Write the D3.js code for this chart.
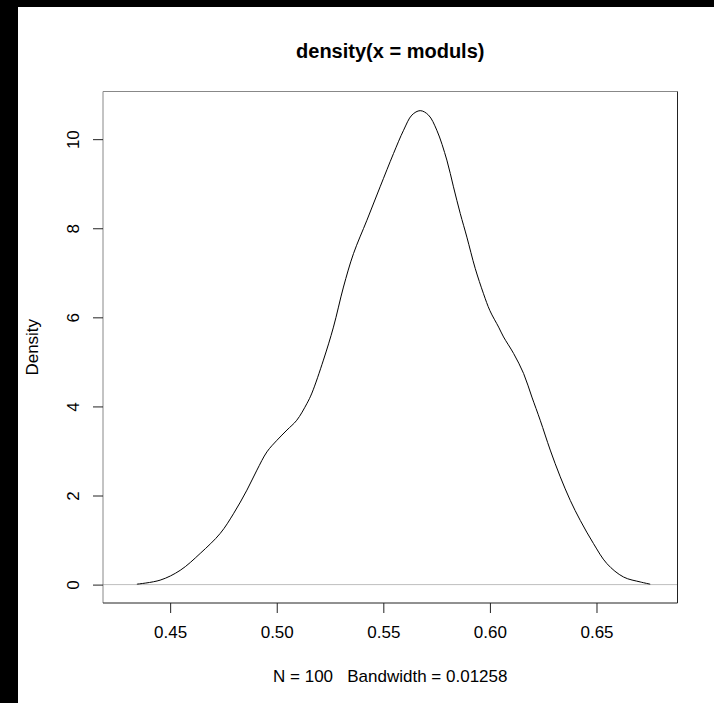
<!DOCTYPE html>
<html>
<head>
<meta charset="utf-8">
<script src="https://cdn.jsdelivr.net/npm/d3@7"></script>
<style>
html, body { margin: 0; padding: 0; background: #000; }
svg { display: block; }
text { font-family: "Liberation Sans", Arial, sans-serif; fill: #000; }
</style>
</head>
<body>
<script>
// Density estimate
const moduls = [0.4344, 0.4453, 0.4547, 0.4641, 0.4735, 0.4797, 0.4860, 0.4907, 0.4954, 0.5001,
  0.5048, 0.5094, 0.5141, 0.5165, 0.5219, 0.5266, 0.5313, 0.5360, 0.5423, 0.5485,
  0.5548, 0.5595, 0.5634, 0.5673, 0.5712, 0.5751, 0.5798, 0.5829, 0.5861, 0.5892,
  0.5931, 0.5970, 0.6000, 0.6041, 0.6064, 0.6111, 0.6158, 0.6197, 0.6236, 0.6283,
  0.6330, 0.6377, 0.6424, 0.6486, 0.6549, 0.6627, 0.6705, 0.6752];
const density = [0.01, 0.10, 0.32, 0.70, 1.15, 1.59, 2.12, 2.57, 2.98, 3.24,
  3.47, 3.69, 4.06, 4.30, 5.04, 5.78, 6.68, 7.43, 8.18, 8.93,
  9.68, 10.20, 10.54, 10.64, 10.54, 10.20, 9.53, 8.93, 8.33, 7.80,
  7.10, 6.53, 6.15, 5.78, 5.56, 5.19, 4.74, 4.21, 3.69, 3.02,
  2.42, 1.89, 1.44, 0.92, 0.47, 0.17, 0.06, 0.01];
const xTicks = [0.45, 0.50, 0.55, 0.60, 0.65];
const yTicks = [0, 2, 4, 6, 8, 10];
const titleText = "density(x = moduls)";
const subText = "N = 100   Bandwidth = 0.01258";
const yLabel = "Density";

const W = 714, H = 703;
const FONT = "'Liberation Sans', Arial, sans-serif";
const svg = d3.select("body").append("svg").attr("width", W).attr("height", H);
svg.append("rect").attr("x", 18).attr("y", 7).attr("width", W - 18).attr("height", H - 7).attr("fill", "#fff");

const L = 103, R = 677.5, T = 91.5, B = 603;
const x = d3.scaleLinear().domain([0.4185, 0.688]).range([L, R]);
const y = d3.scaleLinear().domain([-0.413, 11.07]).range([B, T]);

// zero line
svg.append("line").attr("x1", L).attr("x2", R).attr("y1", y(0)).attr("y2", y(0))
  .attr("stroke", "#bebebe").attr("stroke-width", 1);

// curve
const pts = moduls.map((v, i) => [v, density[i]]);
svg.append("path").datum(pts)
  .attr("d", d3.line().x(d => x(d[0])).y(d => y(d[1])).curve(d3.curveCatmullRom.alpha(0.5)))
  .attr("fill", "none").attr("stroke", "#000").attr("stroke-width", 1);

// box
svg.append("line").attr("x1", L).attr("x2", R).attr("y1", T).attr("y2", T).attr("stroke", "#888");
svg.append("line").attr("x1", L).attr("x2", L).attr("y1", T).attr("y2", B).attr("stroke", "#888");
svg.append("line").attr("x1", R).attr("x2", R).attr("y1", T).attr("y2", B).attr("stroke", "#222");
svg.append("line").attr("x1", L).attr("x2", R).attr("y1", B).attr("y2", B).attr("stroke", "#222");

// x axis
const xa = svg.append("g").attr("transform", `translate(0,${B})`)
  .call(d3.axisBottom(x).tickValues(xTicks).tickFormat(d3.format(".2f")).tickSize(10).tickPadding(13));
xa.select(".domain").remove();
xa.selectAll("line").attr("stroke", "#222");
xa.selectAll("text").style("font-size", "17px").style("font-family", FONT).attr("fill", "#000");

// y axis
const ya = svg.append("g").attr("transform", `translate(${L},0)`)
  .call(d3.axisLeft(y).tickValues(yTicks).tickFormat(d3.format("d")).tickSize(10).tickPadding(0));
ya.select(".domain").remove();
ya.selectAll("line").attr("stroke", "#222");
ya.selectAll("text").remove();
ya.selectAll(".tick").append("text")
  .attr("transform", "translate(-24,0) rotate(-90)")
  .attr("text-anchor", "middle")
  .style("font-size", "17px")
  .style("font-family", FONT)
  .attr("fill", "#000")
  .text(d => d3.format("d")(d));

// title
svg.append("text").attr("x", (L + R) / 2).attr("y", 58).attr("text-anchor", "middle")
  .style("font-size", "20px").style("font-weight", "bold").text(titleText);

// sub
svg.append("text").attr("x", (L + R) / 2).attr("y", 682).attr("text-anchor", "middle")
  .style("font-size", "17px").style("white-space", "pre").attr("xml:space", "preserve").text(subText);

// y label
svg.append("text").attr("transform", `translate(38,${(T + B) / 2}) rotate(-90)`)
  .attr("text-anchor", "middle").style("font-size", "17px").text(yLabel);
</script>
</body>
</html>
